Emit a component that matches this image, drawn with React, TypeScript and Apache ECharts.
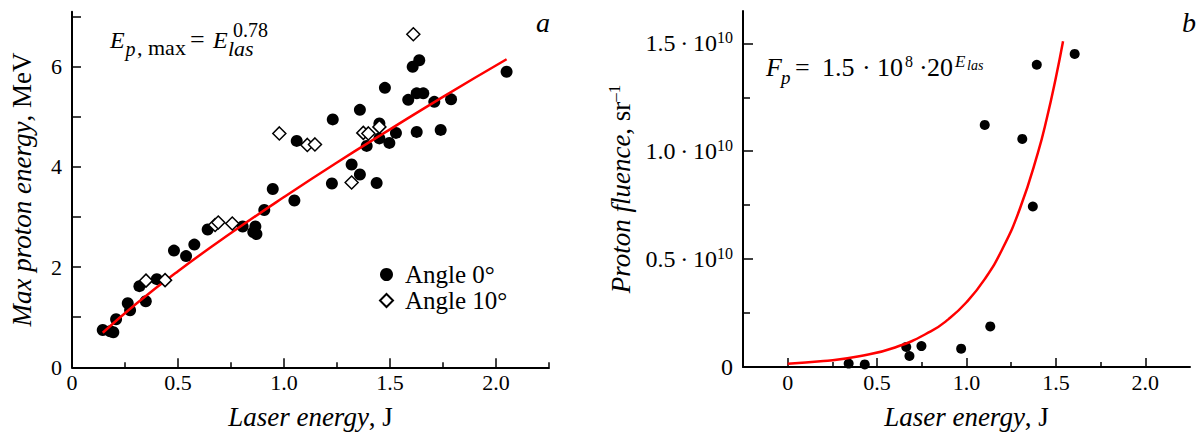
import React, { useEffect, useRef } from "react";
import * as echarts from "echarts";

const FONT = "Liberation Serif";

// Panel a: max proton energy (MeV) vs laser energy (J)
const angle0Points: number[][] = [
  [0.145, 0.745], [0.18, 0.72], [0.195, 0.7], [0.208, 0.96], [0.263, 1.28], [0.274, 1.14],
  [0.318, 1.62], [0.348, 1.32], [0.4, 1.76], [0.481, 2.33], [0.538, 2.22], [0.577, 2.45],
  [0.64, 2.75], [0.805, 2.81], [0.855, 2.7], [0.865, 2.81], [0.87, 2.66], [0.907, 3.14],
  [0.947, 3.56], [1.049, 3.33], [1.06, 4.52], [1.23, 4.95], [1.226, 3.67], [1.319, 4.05],
  [1.358, 3.85], [1.358, 5.14], [1.437, 3.68], [1.39, 4.42], [1.45, 4.87], [1.45, 4.57],
  [1.497, 4.48], [1.528, 4.68], [1.476, 5.58], [1.586, 5.34], [1.607, 6.0], [1.638, 6.13],
  [1.626, 5.47], [1.657, 5.47], [1.709, 5.3], [1.788, 5.35], [1.626, 4.7], [1.739, 4.74],
  [2.05, 5.9],
];
const angle10Points: number[][] = [
  [0.349, 1.73], [0.439, 1.74], [0.675, 2.84], [0.69, 2.89], [0.756, 2.87], [0.978, 4.67],
  [1.11, 4.44], [1.146, 4.45], [1.319, 3.69], [1.374, 4.68], [1.398, 4.67], [1.45, 4.8],
  [1.61, 6.65],
];
const fitLineA: number[][] = [
  [0.145, 0.69], [0.3, 1.26], [0.5, 1.92], [0.75, 2.68], [1.0, 3.4], [1.25, 4.09],
  [1.5, 4.75], [1.75, 5.4], [2.05, 6.15],
];

// Panel b: proton fluence (units of 1e10 sr^-1) vs laser energy (J)
const fluencePoints: number[][] = [
  [0.341, 0.016], [0.431, 0.012], [0.663, 0.093], [0.681, 0.051], [0.748, 0.097], [0.97, 0.085],
  [1.102, 1.122], [1.133, 0.188], [1.312, 1.057], [1.371, 0.744], [1.393, 1.401], [1.605, 1.451],
];
const fitCurveB: number[][] = [
  [0, 0.015], [0.2, 0.0273], [0.4, 0.0497], [0.6, 0.0905], [0.8, 0.165], [0.9, 0.222],
  [1.0, 0.3], [1.1, 0.405], [1.2, 0.546], [1.3, 0.737], [1.4, 0.995], [1.45, 1.155],
  [1.5, 1.342], [1.54, 1.51],
];

const xMajorTicks = [0, 0.5, 1.0, 1.5, 2.0];
const xMinorTicksA = [0.25, 0.75, 1.25, 1.75, 2.25];
const xMinorTicksB = [0.25, 0.75, 1.25, 1.75];
const yTicksA = [0, 1, 2, 3, 4, 5, 6, 7];
const yLabelsA = [0, 2, 4, 6];
const yMajorB = [0, 0.5, 1.0, 1.5];
const yMinorB = [0.25, 0.75, 1.25];

const BLACK = "#000";
const RED = "#ff0000";

const nameRich = {
  i: { fontFamily: FONT, fontSize: 27, fontStyle: "italic", color: BLACK, lineHeight: 30 },
  n: { fontFamily: FONT, fontSize: 27, color: BLACK, lineHeight: 30 },
  s: { fontFamily: FONT, fontSize: 17, color: BLACK, lineHeight: 17, verticalAlign: "top" },
};

function txt(text: string, x: number, y: number, size: number, italic = false) {
  return {
    type: "text",
    x,
    y,
    silent: true,
    style: {
      text,
      fontFamily: FONT,
      fontSize: size,
      fontStyle: italic ? "italic" : "normal",
      fill: BLACK,
      align: "left",
      verticalAlign: "middle",
      textAlign: "left",
      textVerticalAlign: "middle",
    },
  };
}

function xMain(gridIndex: number, min: number) {
  return {
    type: "value",
    gridIndex,
    min,
    max: 2.25,
    position: "bottom",
    axisLine: { onZero: false, lineStyle: { color: BLACK, width: 2 } },
    axisTick: { inside: true, length: 9, customValues: xMajorTicks, lineStyle: { color: BLACK, width: 1.5 } },
    axisLabel: {
      customValues: xMajorTicks,
      formatter: (v: number) => (v === 0 ? "0" : v.toFixed(1)),
      fontFamily: FONT,
      fontSize: 22,
      color: BLACK,
      margin: 4,
    },
    splitLine: { show: false },
    name: "{i|Laser energy}{n|, J}",
    nameLocation: "middle",
    nameGap: 35,
    nameTextStyle: { fontFamily: FONT, rich: nameRich },
  };
}

function xMinor(gridIndex: number, min: number, ticks: number[]) {
  return {
    type: "value",
    gridIndex,
    min,
    max: 2.25,
    position: "bottom",
    axisLine: { show: false, onZero: false },
    axisTick: { inside: true, length: 5, customValues: ticks, lineStyle: { color: BLACK, width: 1.5 } },
    axisLabel: { show: false },
    splitLine: { show: false },
  };
}

export default function App() {
  const ref = useRef<HTMLDivElement>(null);
  useEffect(() => {
    if (!ref.current) return;
    const chart = echarts.init(ref.current, undefined, { renderer: "svg" });
    const option: any = {
      animation: false,
      backgroundColor: "#fff",
      textStyle: { fontFamily: FONT },
      grid: [
        { left: 72, top: 11.7, width: 477, height: 355.6, outerBoundsMode: "none", containLabel: false },
        { left: 743, top: 11, width: 447, height: 356, outerBoundsMode: "none", containLabel: false },
      ],
      xAxis: [xMain(0, 0), xMinor(0, 0, xMinorTicksA), xMain(1, -0.25), xMinor(1, -0.25, xMinorTicksB)],
      yAxis: [
        {
          type: "value",
          gridIndex: 0,
          min: 0,
          max: 7.1,
          position: "left",
          axisLine: { onZero: false, lineStyle: { color: BLACK, width: 2 } },
          axisTick: { inside: true, length: 9, customValues: yTicksA, lineStyle: { color: BLACK, width: 1.5 } },
          axisLabel: { customValues: yLabelsA, fontFamily: FONT, fontSize: 22, color: BLACK, margin: 10 },
          splitLine: { show: false },
          name: "{i|Max proton energy}{n|, MeV}",
          nameLocation: "middle",
          nameGap: 35,
          nameRotate: 90,
          nameTextStyle: { fontFamily: FONT, rich: nameRich },
        },
        {
          type: "value",
          gridIndex: 1,
          min: 0,
          max: 1.65,
          position: "left",
          axisLine: { onZero: false, lineStyle: { color: BLACK, width: 2 } },
          axisTick: { inside: true, length: 10, customValues: yMajorB, lineStyle: { color: BLACK, width: 1.5 } },
          axisLabel: {
            customValues: yMajorB,
            margin: 10,
            fontFamily: FONT,
            formatter: (v: number) => (v === 0 ? "{m|0}" : `{m|${v.toFixed(1)}\u2009·\u200910}{s|10}`),
            rich: {
              m: { fontFamily: FONT, fontSize: 24, color: BLACK, lineHeight: 28 },
              s: { fontFamily: FONT, fontSize: 16, color: BLACK, lineHeight: 16, verticalAlign: "top" },
            },
          },
          splitLine: { show: false },
          name: "{i|Proton fluence}{n|, sr}{s|–1}",
          nameLocation: "middle",
          nameGap: 107,
          nameRotate: 90,
          nameTextStyle: { fontFamily: FONT, rich: nameRich },
        },
        {
          type: "value",
          gridIndex: 1,
          min: 0,
          max: 1.65,
          position: "left",
          axisLine: { show: false, onZero: false },
          axisTick: { inside: true, length: 7, customValues: yMinorB, lineStyle: { color: BLACK, width: 1.5 } },
          axisLabel: { show: false },
          splitLine: { show: false },
        },
      ],
      legend: {
        data: [
          { name: "Angle 0°", icon: "circle" },
          { name: "Angle 10°", icon: "diamond" },
        ],
        orient: "vertical",
        left: 379,
        top: 262,
        itemWidth: 13,
        itemHeight: 13,
        itemGap: 1,
        padding: 0,
        selectedMode: false,
        textStyle: { fontFamily: FONT, fontSize: 25, lineHeight: 25, color: BLACK, padding: [0, 0, 0, 7] },
      },
      series: [
        {
          name: "Angle 0°",
          type: "scatter",
          xAxisIndex: 0,
          yAxisIndex: 0,
          symbol: "circle",
          symbolSize: 12,
          itemStyle: { color: BLACK, opacity: 1 },
          data: angle0Points,
          z: 2,
        },
        {
          name: "Fit a",
          type: "line",
          xAxisIndex: 0,
          yAxisIndex: 0,
          data: fitLineA,
          smooth: true,
          showSymbol: false,
          symbol: "none",
          lineStyle: { color: RED, width: 2.5 },
          itemStyle: { color: RED },
          z: 3,
        },
        {
          name: "Angle 10°",
          type: "scatter",
          xAxisIndex: 0,
          yAxisIndex: 0,
          symbol: "diamond",
          symbolSize: [13, 13],
          itemStyle: { color: "#fff", borderColor: BLACK, borderWidth: 1.5, opacity: 1 },
          data: angle10Points,
          z: 4,
        },
        {
          name: "Fluence",
          type: "scatter",
          xAxisIndex: 2,
          yAxisIndex: 1,
          symbol: "circle",
          symbolSize: 10,
          itemStyle: { color: BLACK, opacity: 1 },
          data: fluencePoints,
          z: 2,
        },
        {
          name: "Fit b",
          type: "line",
          xAxisIndex: 2,
          yAxisIndex: 1,
          data: fitCurveB,
          smooth: true,
          showSymbol: false,
          symbol: "none",
          lineStyle: { color: RED, width: 2.5 },
          itemStyle: { color: RED },
          z: 3,
        },
      ],
      graphic: [
        // panel a formula: E_{p, max} = E_las^0.78
        txt("E", 110, 40.2, 24, true),
        txt("p", 125.5, 49.2, 20, true),
        txt(", max", 137, 47.6, 22),
        txt("=", 190, 39.5, 26),
        txt("E", 213, 40.2, 24, true),
        txt("las", 228, 48, 22, true),
        txt("0.78", 233, 29.5, 20),
        // panel b formula: F_p = 1.5·10^8·20^E_las
        txt("F", 766, 67.9, 26, true),
        txt("p", 781, 77.6, 19, true),
        txt("=", 795, 67.9, 26),
        txt("1.5", 822, 67.9, 26),
        txt("·", 862, 67.9, 26),
        txt("10", 877, 67.9, 26),
        txt("8", 905, 61.3, 16),
        txt("·", 919, 67.9, 26),
        txt("20", 927, 67.9, 26),
        txt("E", 955, 61, 17, true),
        txt("las", 967, 65.3, 14, true),
        // panel letters
        txt("a", 536, 22.2, 28, true),
        txt("b", 1182, 22.2, 28, true),
      ],
    };
    chart.setOption(option);
    return () => chart.dispose();
  }, []);
  return (
    <div
      ref={ref}
      style={{ position: "fixed", left: 0, top: 0, width: 1198, height: 434, background: "#fff" }}
    />
  );
}
